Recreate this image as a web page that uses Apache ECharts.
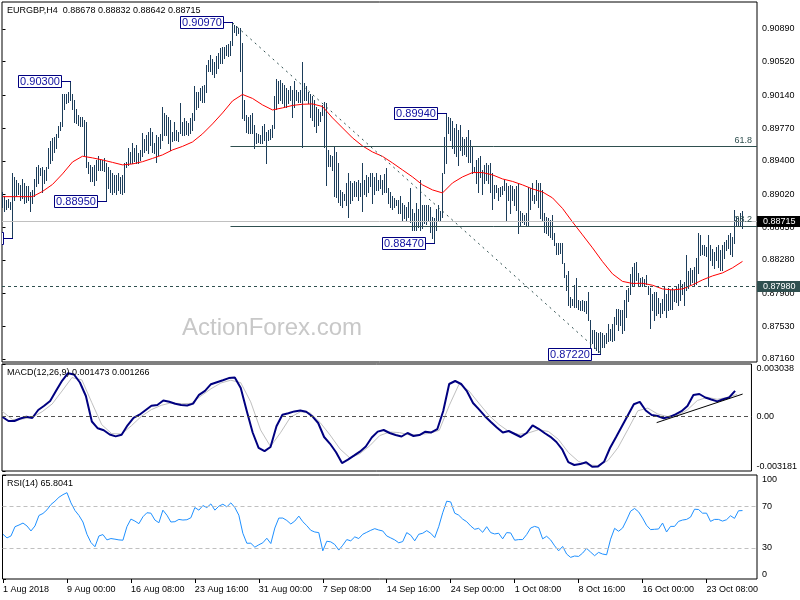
<!DOCTYPE html>
<html><head><meta charset="utf-8">
<script src="https://cdn.jsdelivr.net/npm/echarts@6/dist/echarts.min.js"></script>
<style>html,body{margin:0;padding:0;background:#fff}#c{width:800px;height:600px}</style>
</head><body><div id="c"></div>
<script>
// ---- price bars (H4), one entry per bar, index 0 = 1 Aug 2018 16:00 ----
const high = [
0.8905,0.8900,0.8896,0.8897,0.8894,0.8926,0.8922,0.8918,0.8915,0.8913,
0.8920,0.8915,0.8912,0.8911,0.8905,0.8907,0.8920,0.8933,0.8935,0.8932,
0.8933,0.8930,0.8933,0.8954,0.8962,0.8966,0.8967,0.8970,0.8979,0.8984,
0.9016,0.9016,0.9015,0.9018,0.9030,0.9016,0.9009,0.8998,0.8992,0.8990,
0.8990,0.8986,0.8984,0.8939,0.8935,0.8933,0.8935,0.8941,0.8945,0.8941,
0.8941,0.8943,0.8937,0.8933,0.8930,0.8926,0.8924,0.8924,0.8926,0.8922,
0.8924,0.8937,0.8939,0.8954,0.8950,0.8960,0.8955,0.8958,0.8949,0.8952,
0.8971,0.8965,0.8969,0.8973,0.8977,0.8973,0.8960,0.8969,0.8967,0.8970,
0.9001,0.8994,0.8992,0.8990,0.8986,0.8973,0.8984,0.8975,0.8973,0.9005,
0.8984,0.8988,0.8985,0.8983,0.8988,0.8994,0.9024,0.9018,0.9018,0.9022,
0.9024,0.9026,0.9048,0.9054,0.9060,0.9055,0.9052,0.9058,0.9062,0.9067,
0.9069,0.9069,0.9071,0.9072,0.9075,0.9097,0.9094,0.9092,0.9090,0.9090,
0.9073,0.9009,0.8992,0.8990,0.8992,0.8994,0.8981,0.8971,0.8970,0.8969,
0.8979,0.8982,0.8973,0.8975,0.8976,0.8981,0.9013,0.9033,0.9030,0.9031,
0.9028,0.9026,0.9022,0.9020,0.9024,0.9020,0.9030,0.9020,0.9018,0.9020,
0.9052,0.9028,0.9024,0.9018,0.9015,0.9013,0.9009,0.9001,0.8998,0.8995,
0.9003,0.9007,0.9005,0.8952,0.8947,0.8945,0.8956,0.8950,0.8937,0.8907,
0.8905,0.8903,0.8915,0.8926,0.8917,0.8915,0.8917,0.8916,0.8918,0.8915,
0.8937,0.8918,0.8924,0.8922,0.8926,0.8926,0.8922,0.8926,0.8918,0.8924,
0.8918,0.8925,0.8932,0.8909,0.8905,0.8900,0.8898,0.8896,0.8896,0.8900,
0.8892,0.8890,0.8888,0.8894,0.8909,0.8885,0.8881,0.8892,0.8885,0.8918,
0.8890,0.8890,0.8890,0.8890,0.8888,0.8877,0.8875,0.8885,0.8890,0.8883,
0.8926,0.8967,0.8994,
0.8990,0.8988,0.8985,0.8977,0.8982,0.8975,0.8981,0.8967,0.8965,0.8967,
0.8975,0.8964,0.8956,0.8933,0.8941,0.8943,0.8945,0.8930,0.8935,0.8937,
0.8935,0.8937,0.8926,0.8913,0.8913,0.8909,0.8910,0.8911,0.8918,0.8915,
0.8911,0.8913,0.8911,0.8908,0.8911,0.8915,0.8883,0.8881,0.8879,0.8881,
0.8910,0.8909,0.8915,0.8901,0.8918,0.8915,0.8915,0.8907,0.8881,0.8877,
0.8875,0.8873,0.8879,0.8858,0.8847,0.8847,0.8847,0.8847,0.8824,0.8811,
0.8815,0.8786,0.8784,0.8800,0.8807,0.8783,0.8781,0.8783,0.8781,0.8781,
0.8792,0.8760,0.8749,0.8749,0.8747,0.8745,0.8747,0.8745,0.8743,0.8745,
0.8756,0.8750,0.8756,0.8764,0.8773,0.8773,0.8771,0.8771,0.8783,0.8794,
0.8796,0.8812,0.8820,0.8824,0.8826,0.8813,0.8807,0.8809,0.8806,0.8811,
0.8798,0.8796,0.8790,0.8792,0.8792,0.8785,0.8779,0.8784,0.8798,0.8790,
0.8796,0.8794,0.8796,0.8794,0.8798,0.8801,0.8805,0.8801,0.8803,0.8834,
0.8815,0.8819,0.8817,0.8820,0.8830,0.8858,0.8856,0.8845,0.8845,0.8843,
0.8856,0.8845,0.8840,0.8837,0.8843,0.8845,0.8839,0.8845,0.8848,0.8851,
0.8856,0.8858,0.8854,0.8884,0.8877,0.8875,0.8881,0.8883
];
const low = [
0.8888,0.8883,0.8885,0.8888,0.8886,0.8853,0.8896,0.8900,0.8903,0.8896,
0.8898,0.8892,0.8894,0.8896,0.8883,0.8892,0.8900,0.8911,0.8915,0.8924,
0.8905,0.8915,0.8918,0.8932,0.8937,0.8941,0.8950,0.8955,0.8967,0.8975,
0.8979,0.8998,0.9005,0.9007,0.9009,0.8998,0.8984,0.8983,0.8981,0.8979,
0.8979,0.8947,0.8933,0.8926,0.8917,0.8917,0.8913,0.8918,0.8930,0.8930,
0.8930,0.8928,0.8895,0.8909,0.8905,0.8903,0.8905,0.8902,0.8907,0.8904,
0.8902,0.8905,0.8933,0.8935,0.8937,0.8937,0.8940,0.8937,0.8937,0.8941,
0.8945,0.8950,0.8952,0.8949,0.8958,0.8950,0.8949,0.8939,0.8947,0.8955,
0.8964,0.8969,0.8969,0.8960,0.8952,0.8962,0.8964,0.8963,0.8962,0.8971,
0.8969,0.8969,0.8970,0.8969,0.8971,0.8975,0.8986,0.8999,0.9001,0.9009,
0.9007,0.9007,0.9018,0.9041,0.9041,0.9038,0.9035,0.9039,0.9045,0.9050,
0.9050,0.9056,0.9060,0.9058,0.9060,0.9071,0.9086,0.9082,0.9084,0.9041,
0.8988,0.8986,0.8973,0.8971,0.8971,0.8971,0.8954,0.8960,0.8961,0.8960,
0.8960,0.8964,0.8937,0.8964,0.8965,0.8967,0.8977,0.8998,0.9005,0.9009,
0.9005,0.9001,0.9001,0.9005,0.9009,0.8990,0.9001,0.9009,0.9006,0.9007,
0.8956,0.9009,0.9009,0.9005,0.8990,0.8986,0.8979,0.8973,0.8981,0.8985,
0.8992,0.8956,0.8913,0.8934,0.8934,0.8930,0.8900,0.8899,0.8894,0.8890,
0.8888,0.8896,0.8890,0.8877,0.8892,0.8896,0.8900,0.8900,0.8896,0.8900,
0.8883,0.8903,0.8900,0.8905,0.8911,0.8892,0.8903,0.8907,0.8907,0.8909,
0.8903,0.8905,0.8905,0.8892,0.8888,0.8885,0.8888,0.8890,0.8881,0.8881,
0.8873,0.8875,0.8873,0.8877,0.8871,0.8862,0.8862,0.8862,0.8865,0.8862,
0.8864,0.8870,0.8869,0.8873,0.8860,0.8853,0.8847,0.8862,0.8873,0.8873,
0.8877,0.8926,0.8937,
0.8971,0.8964,0.8955,0.8949,0.8945,0.8935,0.8952,0.8947,0.8948,0.8945,
0.8939,0.8939,0.8926,0.8928,0.8915,0.8905,0.8922,0.8903,0.8915,0.8918,
0.8915,0.8905,0.8885,0.8898,0.8905,0.8896,0.8900,0.8903,0.8907,0.8873,
0.8896,0.8881,0.8896,0.8890,0.8884,0.8858,0.8867,0.8871,0.8869,0.8866,
0.8866,0.8886,0.8896,0.8892,0.8896,0.8888,0.8875,0.8873,0.8860,0.8858,
0.8856,0.8854,0.8852,0.8845,0.8835,0.8835,0.8836,0.8824,0.8809,0.8794,
0.8777,0.8775,0.8777,0.8775,0.8775,0.8773,0.8771,0.8771,0.8770,0.8768,
0.8760,0.8730,0.8734,0.8728,0.8726,0.8724,0.8722,0.8730,0.8730,0.8734,
0.8736,0.8738,0.8736,0.8738,0.8756,0.8749,0.8754,0.8745,0.8749,0.8764,
0.8781,0.8790,0.8798,0.8800,0.8805,0.8800,0.8798,0.8798,0.8800,0.8801,
0.8790,0.8751,0.8771,0.8760,0.8766,0.8768,0.8764,0.8768,0.8771,0.8764,
0.8771,0.8773,0.8773,0.8781,0.8780,0.8777,0.8783,0.8790,0.8777,0.8794,
0.8796,0.8801,0.8803,0.8798,0.8801,0.8813,0.8834,0.8835,0.8834,0.8832,
0.8798,0.8828,0.8822,0.8819,0.8828,0.8820,0.8817,0.8817,0.8830,0.8839,
0.8841,0.8835,0.8832,0.8847,0.8866,0.8867,0.8866,0.8864
];
// ---- moving average (red), one value every maStep bars ----
const maStep = 5;
const ma = [
0.88995,0.88995,0.88995,0.88995,0.89054,0.89133,0.89252,0.89387,0.89452,0.89433,
0.89410,0.89382,0.89354,0.89365,0.89390,0.89427,0.89467,0.89523,0.89563,0.89613,
0.89704,0.89817,0.89941,0.90077,0.90150,0.90105,0.90032,0.89975,0.89998,0.90026,
0.90039,0.90043,0.90014,0.89885,0.89772,0.89659,0.89568,0.89500,0.89450,0.89376,
0.89297,0.89218,0.89128,0.89071,0.89037,0.89150,0.89218,0.89267,0.89267,0.89241,
0.89195,0.89167,0.89128,0.89082,0.89048,0.88981,0.88862,0.88709,0.88563,0.88416,
0.88261,0.88122,0.88037,0.88014,0.88016,0.87994,0.87952,0.87941,0.87952,0.87998,
0.88054,0.88099,0.88133,0.88190,0.88263
];
// ---- MACD(12,26,9) main line, one value every macdStep bars ----
const macdStep = 3;
const macdMain = [
-0.000042,-0.000275,-0.000275,-0.000130,-0.000025,-0.000100,0.000364,0.000609,0.000888,0.001480,
0.002062,0.002503,0.002428,0.001963,0.001178,-0.000304,-0.000699,-0.000815,-0.001059,-0.001170,
-0.001077,-0.000525,-0.000100,0.000091,0.000353,0.000609,0.000655,0.000917,0.000841,0.000725,
0.000655,0.000626,0.000736,0.001248,0.001480,0.001864,0.001980,0.002096,0.002219,0.002259,
0.001637,0.000324,-0.000943,-0.001832,-0.002024,-0.001786,-0.000577,0.000091,0.000178,0.000283,
0.000335,0.000266,0.000004,-0.000391,-0.001205,-0.001600,-0.002094,-0.002722,-0.002524,-0.002292,
-0.002059,-0.001757,-0.001234,-0.000891,-0.000798,-0.000972,-0.001089,-0.001176,-0.000972,-0.001147,
-0.001089,-0.000897,-0.000943,-0.000751,0.000306,0.001876,0.002050,0.001876,0.001440,0.000771,
0.000399,0.000004,-0.000333,-0.000653,-0.000943,-0.000856,-0.001030,-0.001205,-0.000972,-0.000525,
-0.000728,-0.000972,-0.001193,-0.001495,-0.001943,-0.002669,-0.002832,-0.002780,-0.002669,-0.002931,
-0.002913,-0.002646,-0.001844,-0.001222,-0.000583,0.000056,0.000702,0.000835,0.000335,0.000074,
0.000016,-0.000118,-0.000031,0.000109,0.000295,0.000597,0.001236,0.001294,0.001091,0.000975,
0.000864,0.000986,0.001091,0.001473
];
// ---- MACD signal line, one value every signalStep bars ----
const signalStep = 5;
const macdSignal = [
0.000277,-0.000188,-0.000159,-0.000066,0.000266,0.000713,0.001469,0.002248,0.002108,0.000789,
-0.000490,-0.001007,-0.001030,-0.000542,0.000002,0.000388,0.000638,0.000783,0.000731,0.000748,
0.001184,0.001597,0.001934,0.002096,0.001951,0.000841,-0.000798,-0.001757,-0.000961,-0.000060,
0.000260,0.000190,-0.000368,-0.001089,-0.001902,-0.002425,-0.002175,-0.001711,-0.001123,-0.000914,
-0.000949,-0.001083,-0.001065,-0.000995,-0.000815,0.000620,0.001876,0.001469,0.000754,0.000056,
-0.000472,-0.000879,-0.001054,-0.000966,-0.000780,-0.000885,-0.001344,-0.002100,-0.002617,-0.002826,
-0.002867,-0.002571,-0.001827,-0.000769,0.000318,0.000475,0.000132,-0.000019,0.000062,0.000376,
0.000917,0.001103,0.000986,0.001097,0.001266
];
// ---- RSI(14), one value every rsiStep bars ----
const rsiStep = 2;
const rsi = [
43.0,39.5,41.4,50.3,51.9,53.8,51.0,46.2,51.0,61.1,
63.0,66.5,71.6,74.8,78.6,81.1,83.0,73.2,65.9,61.1,
54.8,43.0,35.1,31.0,41.4,42.7,37.6,38.9,38.3,37.6,
37.3,50.3,57.6,55.7,53.2,59.8,63.7,63.3,56.7,54.1,
66.2,61.4,54.8,55.1,57.3,56.7,57.0,58.9,68.7,66.2,
70.6,68.7,72.2,66.2,70.0,71.9,69.4,73.2,68.7,61.4,
44.0,34.4,34.4,30.6,32.9,34.8,39.2,34.1,49.0,58.6,
58.6,56.3,52.9,55.7,60.5,55.1,51.3,46.8,45.2,44.6,
27.1,36.3,35.7,33.2,27.8,32.5,37.9,36.7,40.5,38.9,
43.0,44.9,46.8,48.4,47.1,46.2,41.4,39.5,37.6,34.8,
36.0,44.6,42.1,36.7,43.0,44.0,46.5,44.0,39.8,50.3,
63.7,74.8,74.1,63.3,61.4,57.6,55.1,51.0,47.8,48.7,
44.9,50.3,44.6,43.3,44.0,38.6,44.6,44.3,37.3,37.9,
37.9,42.7,49.0,50.6,49.4,38.6,41.1,37.6,31.9,27.1,
31.3,24.0,20.8,22.1,21.7,24.9,29.4,25.9,22.4,25.6,
24.0,23.3,38.3,48.7,45.9,49.0,56.7,65.2,67.8,64.6,
58.6,51.6,47.5,47.8,48.1,53.8,45.2,50.6,50.6,55.4,
56.7,57.3,59.5,67.1,66.8,63.3,63.3,55.4,57.3,57.3,
55.7,57.0,60.8,58.3,65.6,65.8041
];
// ---- axis ticks / labels ----
const priceTicks = [0.87160,0.87530,0.87900,0.88280,0.88650,0.89020,0.89400,0.89770,0.90140,0.90520,0.90890];
const macdTicks = [-0.003181, 0, 0.003038];
const rsiTicks = [0, 30, 70, 100];
const rsiLevels = [30, 70];
const timeTickIdx = [0,32,64,96,128,160,192,224,256,288,320,352];
const timeLabels = ['1 Aug 2018','9 Aug 00:00','16 Aug 08:00','23 Aug 16:00','31 Aug 00:00','7 Sep 08:00','14 Sep 16:00','24 Sep 00:00','1 Oct 08:00','8 Oct 16:00','16 Oct 00:00','23 Oct 08:00'];
// ---- annotations ----
const peakIdx = [5, 34, 52, 115, 216, 222, 299];
const peakVal = [0.8853, 0.9030, 0.8895, 0.9097, 0.8847, 0.8994, 0.8722];
const fibNames = ['61.8', '38.2'];
const fibLevels = [0.8956, 0.8866];
const fibStartIdx = 114;
const lastPrice = 0.88715;
const supportLevel = 0.8798;
const trendFrom = [115, 0.9096], trendTo = [299, 0.8723];
const macdTrendFrom = [329.5, -0.00037], macdTrendTo = [372.8, 0.00129];
const tagPrices = [lastPrice, supportLevel];

const FONT = "'Liberation Sans', Arial, sans-serif";
const barColor = '#1C3D5A';
const slate = '#2F4F4F';
const tagColors = ['#000000', slate];
const XMIN = -0.25, XMAX = 377.25;

const chart = echarts.init(document.getElementById('c'), null, {renderer: 'canvas'});

const xBase = (gi, show) => ({
  type: 'value', gridIndex: gi, min: XMIN, max: XMAX, show: show,
  axisLine: {show: false}, splitLine: {show: false},
  axisTick: show ? {show: true, length: 4, lineStyle: {color: '#000'}, customValues: timeTickIdx} : {show: false},
  axisLabel: show ? {show: true, customValues: timeTickIdx, align: 'left', margin: 6,
    fontFamily: FONT, fontSize: 9, color: '#000',
    formatter: v => timeLabels[timeTickIdx.indexOf(v)] || ''} : {show: false}
});

const yBase = (gi, min, max, ticks, fmt, edgeAlign) => {
  const lab = {show: true, customValues: ticks, margin: 5, fontFamily: FONT, fontSize: 9, color: '#000', formatter: fmt};
  if (edgeAlign) { lab.verticalAlignMinLabel = 'bottom'; lab.verticalAlignMaxLabel = 'top'; }
  return {
    type: 'value', gridIndex: gi, position: 'right', min: min, max: max, scale: true,
    axisLine: {show: false}, splitLine: {show: false},
    axisTick: {show: true, length: 3, lineStyle: {color: '#000'}, customValues: ticks},
    axisLabel: lab
  };
};

const option = {
  animation: false,
  backgroundColor: '#ffffff',
  grid: [
    {left: 2, right: 43, top: 2, height: 360, show: true, borderColor: '#000', borderWidth: 1, backgroundColor: 'transparent'},
    {left: 2, right: 43, top: 364, height: 107, show: true, borderColor: '#000', borderWidth: 1},
    {left: 2, right: 43, top: 475, height: 104, show: true, borderColor: '#000', borderWidth: 1}
  ],
  xAxis: [xBase(0, false), xBase(1, false), xBase(2, true)],
  yAxis: [
    yBase(0, 0.87126, 0.91195, priceTicks, v => v.toFixed(5), false),
    yBase(1, -0.003181, 0.003038, macdTicks, v => (v === 0 ? '0.00' : v.toFixed(6)), true),
    yBase(2, 0, 100, rsiTicks, v => String(v), true)
  ],
  graphic: [
    {type: 'text', z: 0, style: {x: 272, y: 328, text: 'ActionForex.com', align: 'center', verticalAlign: 'middle', font: '24px ' + FONT, fill: '#C8C8C8'}},
    {type: 'text', z: 100, style: {x: 7, y: 11, text: 'EURGBP,H4  0.88678 0.88832 0.88642 0.88715', verticalAlign: 'middle', font: '9px ' + FONT, fill: '#000'}},
    {type: 'text', z: 100, style: {x: 7, y: 373, text: 'MACD(12,26,9) 0.001473 0.001266', verticalAlign: 'middle', font: '9px ' + FONT, fill: '#000'}},
    {type: 'text', z: 100, style: {x: 7, y: 484, text: 'RSI(14) 65.8041', verticalAlign: 'middle', font: '9px ' + FONT, fill: '#000'}}
  ],
  series: [
    // price bars
    {
      type: 'custom', xAxisIndex: 0, yAxisIndex: 0, clip: true, z: 2,
      data: high.map((h, i) => [i, h, low[i]]),
      encode: {x: 0, y: [1, 2]},
      renderItem: (params, api) => {
        const t = api.coord([api.value(0), api.value(1)]);
        const b = api.coord([api.value(0), api.value(2)]);
        const x = Math.round(t[0] - 0.5) + 0.5;
        return {type: 'line', shape: {x1: x, y1: Math.round(t[1]), x2: x, y2: Math.round(b[1]) + 1},
          style: {stroke: barColor, lineWidth: 1}};
      }
    },
    // moving average + drawn objects
    {
      type: 'line', xAxisIndex: 0, yAxisIndex: 0, z: 3,
      data: ma.map((v, k) => [k * maStep, v]),
      symbol: 'none', lineStyle: {color: '#FF0000', width: 1}, itemStyle: {color: '#FF0000'},
      markLine: {
        silent: true, symbol: 'none', animation: false, precision: 6,
        data: [
          [{coord: [fibStartIdx, fibLevels[0]], lineStyle: {color: slate, width: 1, type: 'solid'},
            label: {show: true, position: 'insideEndTop', formatter: fibNames[0], color: slate, fontFamily: FONT, fontSize: 9, distance: [5, 2]}},
           {coord: [XMAX, fibLevels[0]]}],
          [{coord: [fibStartIdx, fibLevels[1]], lineStyle: {color: slate, width: 1, type: 'solid'},
            label: {show: true, position: 'insideEndTop', formatter: fibNames[1], color: slate, fontFamily: FONT, fontSize: 9, distance: [5, 2]}},
           {coord: [XMAX, fibLevels[1]]}],
          {yAxis: lastPrice, lineStyle: {color: '#C0C0C0', width: 1, type: 'solid'}, label: {show: false}},
          {yAxis: supportLevel, lineStyle: {color: slate, width: 1, type: [3, 3]}, label: {show: false}},
          [{coord: trendFrom, lineStyle: {color: slate, width: 1, type: [2, 4]}, label: {show: false}},
           {coord: trendTo}]
        ]
      }
    },
    // peak / trough tags
    {
      type: 'custom', xAxisIndex: 0, yAxisIndex: 0, clip: true, z: 6,
      data: peakIdx.map((i, k) => [i, peakVal[k]]),
      encode: {x: 0, y: 1},
      renderItem: (params, api) => {
        const p = api.coord([api.value(0), api.value(1)]);
        const x = Math.round(p[0]);
        const y = Math.round(p[1]) + 0.5;
        const right = x - 10;
        const w = 43, h = 12;
        return {type: 'group', children: [
          {type: 'line', shape: {x1: right, y1: y, x2: x, y2: y}, style: {stroke: '#000080', lineWidth: 1}},
          {type: 'rect', shape: {x: right - w + 0.5, y: y - h / 2, width: w, height: h}, style: {fill: '#fff', stroke: '#000080', lineWidth: 1}},
          {type: 'text', style: {x: right - w / 2 + 0.5, y: y + 0.5, text: api.value(1).toFixed(5), align: 'center', verticalAlign: 'middle', font: '11px ' + FONT, fill: '#1010A0'}}
        ]};
      }
    },
    // price tags on the right axis
    {
      type: 'custom', xAxisIndex: 0, yAxisIndex: 0, clip: false, z: 10,
      data: tagPrices.map(p => [0, p]),
      encode: {x: 0, y: 1},
      renderItem: (params, api) => {
        const y = Math.round(api.coord([0, api.value(1)])[1]);
        const x0 = params.coordSys.x + params.coordSys.width;
        return {type: 'group', children: [
          {type: 'rect', shape: {x: x0, y: y - 5, width: 43, height: 11}, style: {fill: tagColors[params.dataIndex]}},
          {type: 'text', style: {x: x0 + 6, y: y + 0.5, text: api.value(1).toFixed(5), verticalAlign: 'middle', font: '9px ' + FONT, fill: '#fff'}}
        ]};
      }
    },
    // MACD signal
    {
      type: 'line', xAxisIndex: 1, yAxisIndex: 1, z: 2,
      data: macdSignal.map((v, k) => [k * signalStep, v]),
      symbol: 'none', lineStyle: {color: '#C0C0C0', width: 1}
    },
    // MACD main
    {
      type: 'line', xAxisIndex: 1, yAxisIndex: 1, z: 3,
      data: macdMain.map((v, k) => [k * macdStep, v]),
      symbol: 'none', lineStyle: {color: '#000080', width: 2},
      markLine: {
        silent: true, symbol: 'none', animation: false, precision: 6,
        data: [
          {yAxis: 0, lineStyle: {color: '#505050', width: 1, type: [4, 3]}, label: {show: false}},
          [{coord: macdTrendFrom, lineStyle: {color: '#000', width: 1, type: 'solid'}, label: {show: false}},
           {coord: macdTrendTo}]
        ]
      }
    },
    // RSI
    {
      type: 'line', xAxisIndex: 2, yAxisIndex: 2, z: 3,
      data: rsi.map((v, k) => [k * rsiStep, v]),
      symbol: 'none', lineStyle: {color: '#1E90FF', width: 1},
      markLine: {
        silent: true, symbol: 'none', animation: false, precision: 6,
        data: rsiLevels.map(v => ({yAxis: v, lineStyle: {color: '#C0C0C0', width: 1, type: [4, 3]}, label: {show: false}}))
      }
    }
  ]
};
chart.setOption(option);
</script>
</body></html>
